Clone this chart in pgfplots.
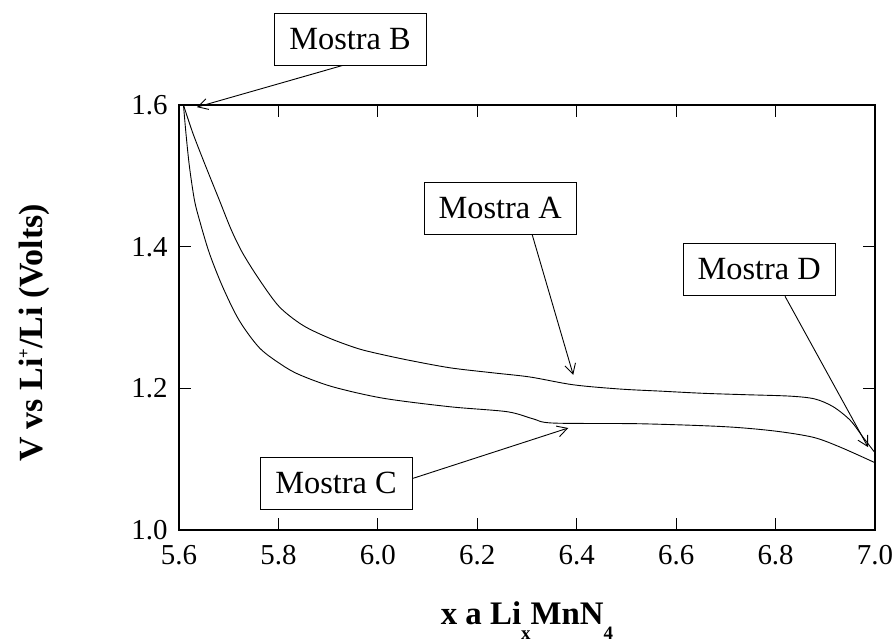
\documentclass[border=0pt]{standalone}
\usepackage{fontspec}
\setmainfont{Liberation Serif}
\usepackage{pgfplots}
\pgfplotsset{compat=1.18}
\usetikzlibrary{arrows.meta}

% discharge curves, upper and lower sample
\pgfplotstableread{
x      v
5.609  1.600
5.628  1.560
5.654  1.513
5.681  1.466
5.705  1.424
5.728  1.391
5.762  1.353
5.802  1.315
5.849  1.289
5.902  1.271
5.956  1.257
5.994  1.250
6.060  1.240
6.145  1.229
6.230  1.222
6.306  1.216
6.393  1.205
6.487  1.199
6.570  1.196
6.654  1.193
6.740  1.191
6.829  1.189
6.879  1.185
6.916  1.174
6.950  1.155
6.976  1.131
7.000  1.109
}\curveA

\pgfplotstableread{
x      v
5.609  1.600
5.614  1.560
5.621  1.513
5.631  1.466
5.641  1.438
5.661  1.391
5.688  1.343
5.721  1.296
5.762  1.257
5.807  1.233
5.843  1.219
5.910  1.202
6.011  1.186
6.145  1.174
6.260  1.167
6.312  1.157
6.352  1.151
6.527  1.150
6.694  1.146
6.795  1.140
6.875  1.131
6.930  1.117
7.000  1.095
}\curveC

\begin{document}
\begin{tikzpicture}
\begin{axis}[
  name=ax,
  scale only axis,
  width=696bp, height=425bp,
  xmin=5.6, xmax=7.0, ymin=1.0, ymax=1.6,
  xtick={5.6,5.8,6.0,6.2,6.4,6.6,6.8,7.0},
  ytick={1.0,1.2,1.4,1.6},
  tick align=inside,
  major tick length=12bp,
  axis line style={line width=1.3bp},
  every tick/.style={line width=1bp, black},
  clip=false,
  /pgf/number format/.cd, fixed, fixed zerofill, precision=1, assume math mode=true,
  /pgfplots/.cd,
  xticklabel style={font=\fontsize{29}{29}\selectfont, yshift=-12bp},
  yticklabel style={font=\fontsize{29}{29}\selectfont, xshift=-8bp},
  xlabel={\bfseries x a Li\raisebox{-15bp}{\fontsize{19}{19}\selectfont\bfseries x}MnN\raisebox{-15bp}{\fontsize{19}{19}\selectfont\bfseries 4}},
  xlabel style={font=\fontsize{33}{33}\selectfont, at={(axis description cs:0.5,-0.2235)}, anchor=base},
  ylabel={\bfseries V vs Li\raisebox{13bp}{\fontsize{17}{17}\selectfont +}/Li (Volts)},
  ylabel style={font=\fontsize{34}{34}\selectfont, at={(axis description cs:-0.1968,0.4635)}, anchor=base},
]
\addplot[black, line width=0.9bp, smooth, tension=0.5] table {\curveA};
\addplot[black, line width=0.9bp, smooth, tension=0.5] table {\curveC};

\tikzset{lbl/.style={draw, fill=white, line width=1bp, inner sep=0pt,
    minimum width=152bp, minimum height=52bp, font=\fontsize{32.5}{32.5}\selectfont},
  arr/.style={line width=0.9bp, -{Straight Barb[length=10bp,width=11bp]}}}

\draw[arr] (axis cs:5.930,1.656) -- (axis cs:5.636,1.597);
\draw[arr] (axis cs:6.310,1.418) -- (axis cs:6.393,1.219);
\draw[arr] (axis cs:6.819,1.330) -- (axis cs:6.986,1.117);
\draw[arr] (axis cs:6.071,1.073) -- (axis cs:6.383,1.144);

\node[lbl] at (axis cs:5.944,1.693) {Mostra B};
\node[lbl] at (axis cs:6.246,1.454) {Mostra A};
\node[lbl] at (axis cs:6.767,1.368) {Mostra D};
\node[lbl] at (axis cs:5.916,1.066) {Mostra C};
\end{axis}
\pgfresetboundingbox
\path[use as bounding box] ([shift={(-179bp,-113bp)}]ax.south west)
  rectangle ([shift={(20bp,105bp)}]ax.north east);
\end{tikzpicture}
\end{document}
